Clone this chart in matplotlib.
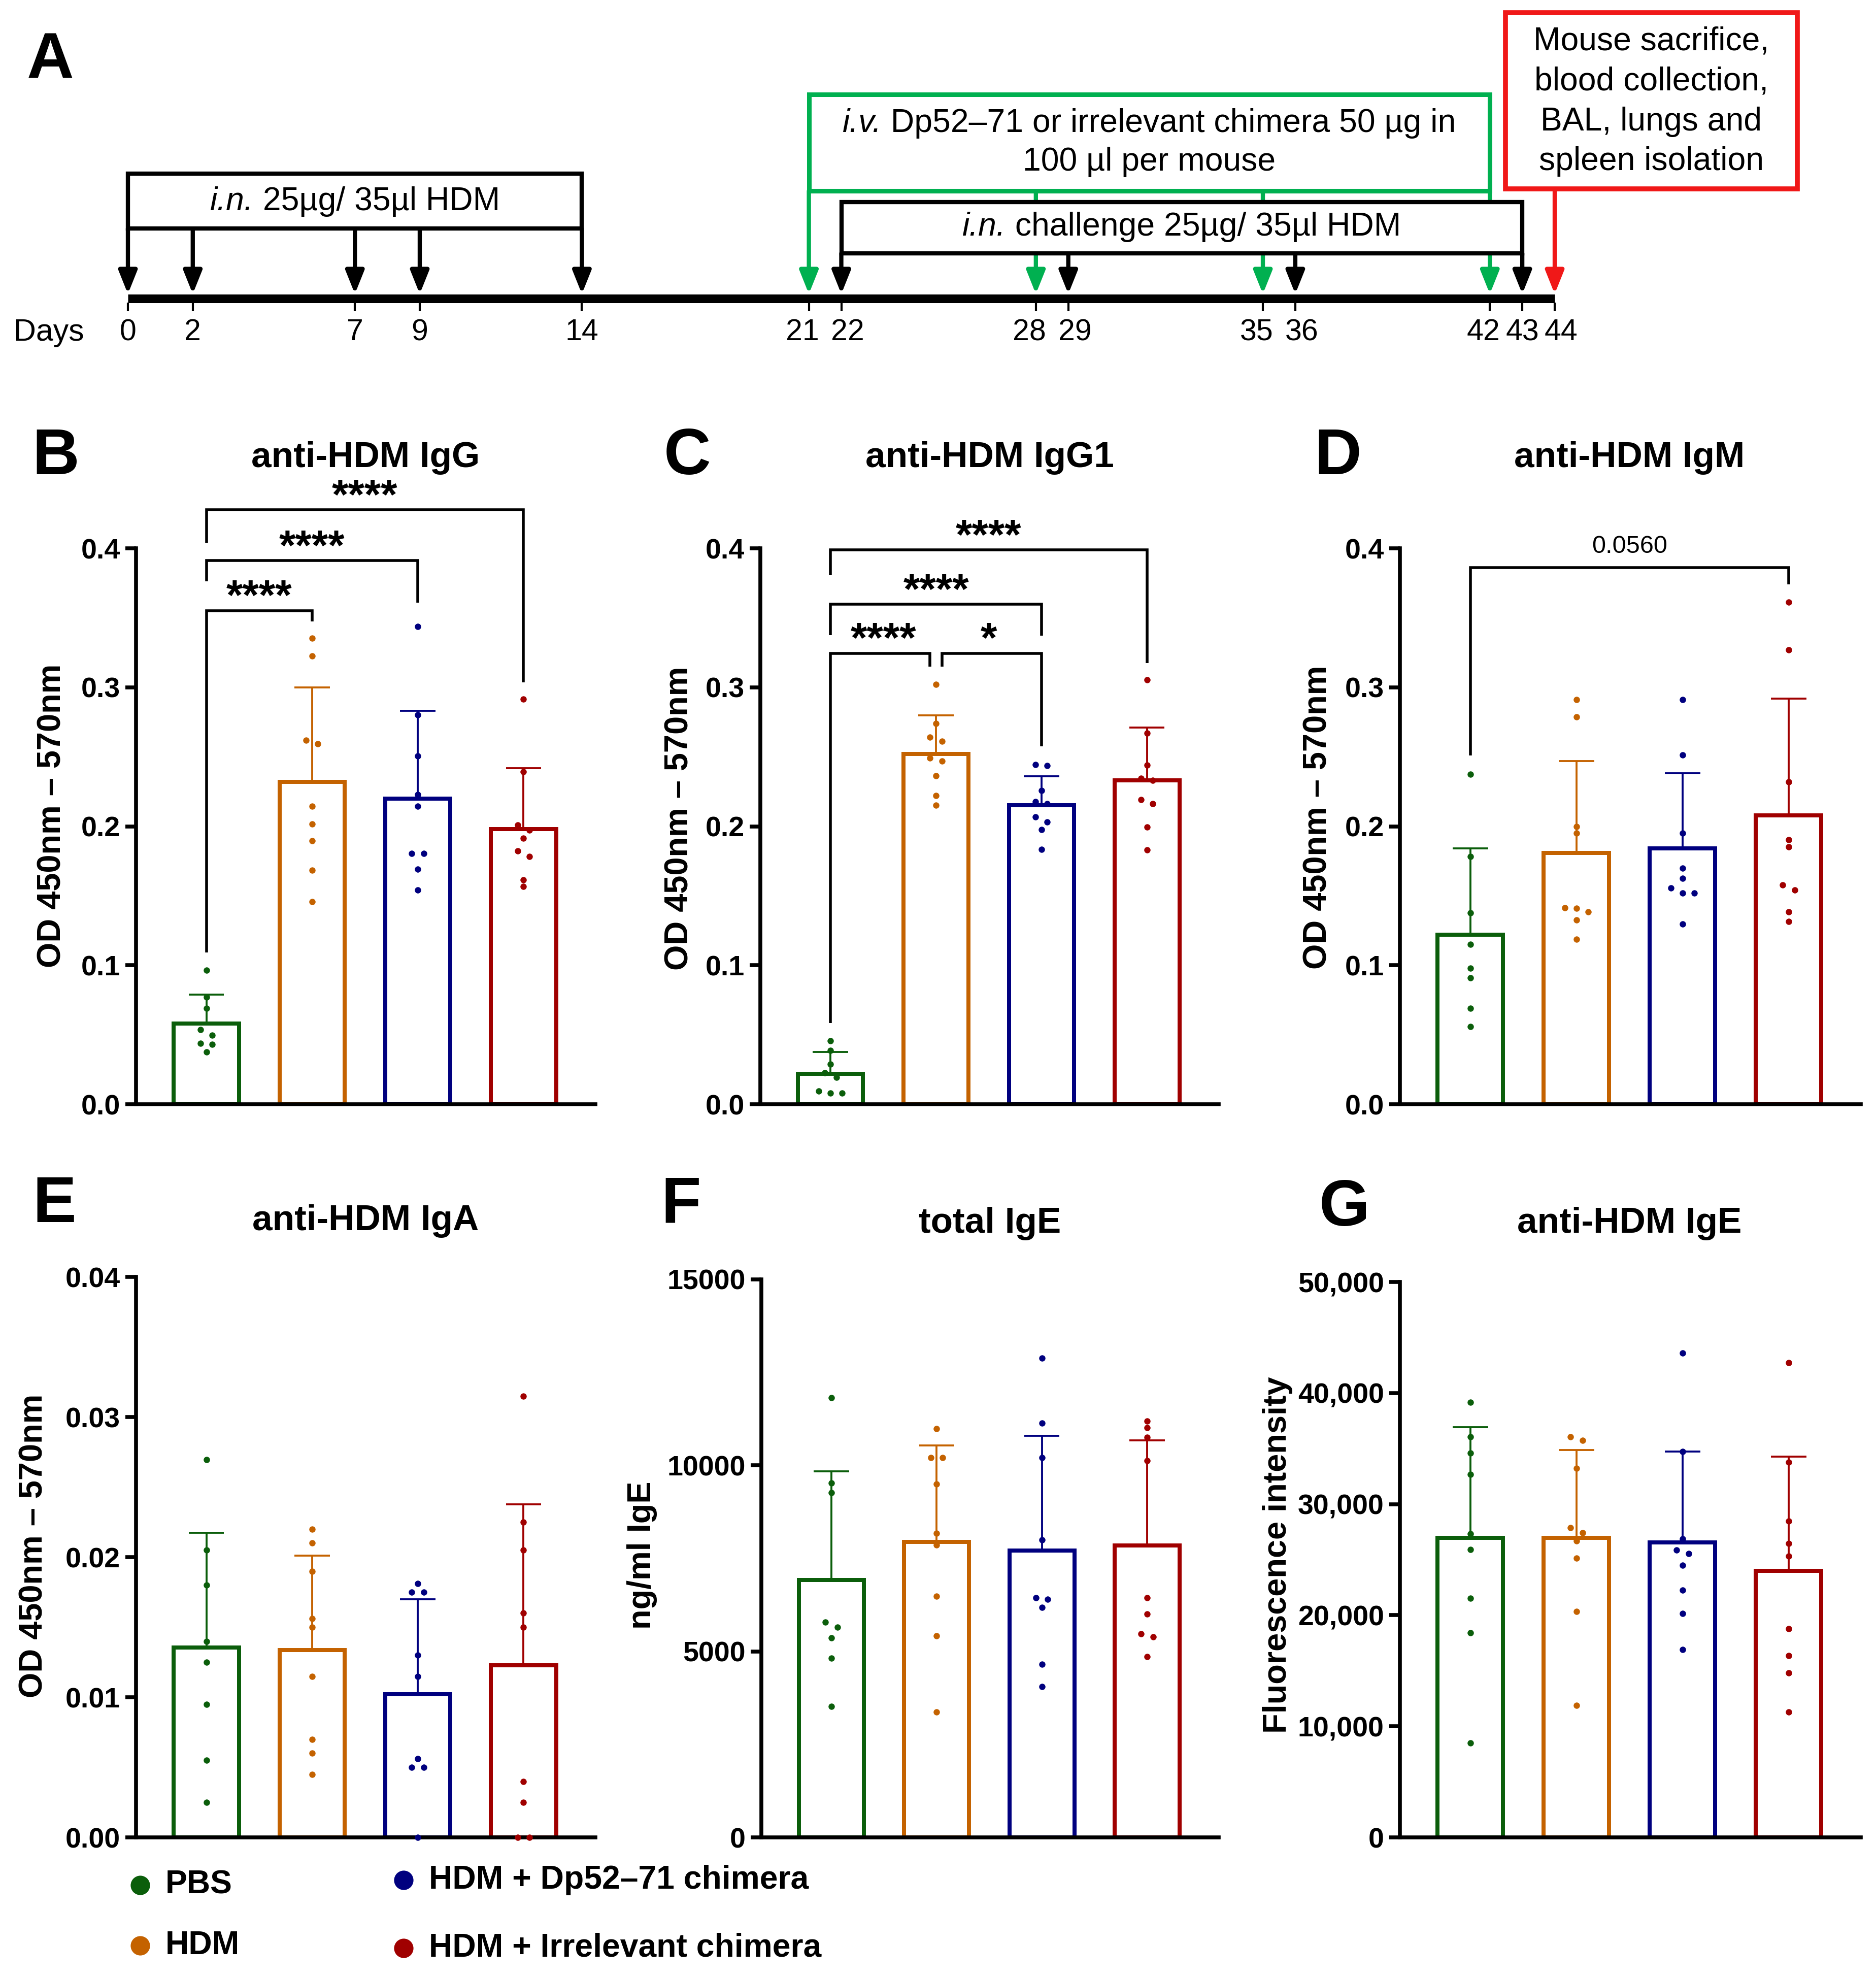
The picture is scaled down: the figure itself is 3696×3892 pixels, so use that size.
import numpy as np
import matplotlib
matplotlib.use('Agg')
import matplotlib.pyplot as plt
from matplotlib.patches import Rectangle
from matplotlib.ticker import FuncFormatter

plt.rcParams['font.family'] = ['Liberation Sans', 'DejaVu Sans']

# ---------------- data ----------------
groups = ['PBS', 'HDM', 'HDM + Dp52–71 chimera', 'HDM + Irrelevant chimera']
colors = ['#0b5e0b', '#c46200', '#00007f', '#a00000']

# Panel A timeline (days)
in_days = [0, 2, 7, 9, 14]
iv_days = [21, 28, 35, 42]
challenge_days = [22, 29, 36, 43]
sacrifice_day = 44
day_labels = [0, 2, 7, 9, 14, 21, 22, 28, 29, 35, 36, 42, 43, 44]
in_text = [('i.n.', 'italic'), (' 25µg/ 35µl HDM', 'normal')]
iv_text_1 = [('i.v.', 'italic'), (' Dp52–71 or irrelevant chimera 50 µg in', 'normal')]
iv_text_2 = [('100 µl per mouse', 'normal')]
challenge_text = [('i.n.', 'italic'), (' challenge 25µg/ 35µl HDM', 'normal')]
sacrifice_text = ['Mouse sacrifice,', 'blood collection,', 'BAL, lungs and', 'spleen isolation']

# Panel B: anti-HDM IgG
igg_pbs = [0.0966, 0.077, 0.0692, 0.0537, 0.0496, 0.0437, 0.0432, 0.0376]
igg_hdm = [0.3353, 0.3227, 0.2621, 0.2594, 0.2144, 0.2017, 0.1897, 0.1685, 0.1459]
igg_dp = [0.3437, 0.2801, 0.2506, 0.2229, 0.2144, 0.1803, 0.1803, 0.169, 0.154]
igg_irr = [0.2916, 0.2393, 0.2009, 0.1972, 0.1915, 0.1822, 0.1781, 0.1615, 0.1567]
igg_mean = [0.058, 0.232, 0.220, 0.198]
igg_sd = [0.021, 0.068, 0.063, 0.044]
igg_brackets = [(0, 1, 0.3552, 0.1094, 0.3475, '****'),
                (0, 2, 0.3912, 0.3764, 0.361, '****'),
                (0, 3, 0.4276, 0.404, 0.3037, '****')]

# Panel C: anti-HDM IgG1
igg1_pbs = [0.0457, 0.0387, 0.0287, 0.0228, 0.0195, 0.0095, 0.0081, 0.0081]
igg1_hdm = [0.3022, 0.2741, 0.2641, 0.2613, 0.249, 0.2468, 0.2365, 0.222, 0.2153]
igg1_dp = [0.2443, 0.2435, 0.2259, 0.2178, 0.2164, 0.2067, 0.2031, 0.1975, 0.1833]
igg1_irr = [0.3053, 0.2669, 0.244, 0.2345, 0.2331, 0.219, 0.2164, 0.1994, 0.183]
igg1_mean = [0.022, 0.252, 0.215, 0.233]
igg1_sd = [0.0155, 0.028, 0.021, 0.038]
igg1_brackets = [(0, 1, 0.3245, 0.0585, 0.315, '****'),
                 (1, 2, 0.3245, 0.315, 0.2577, '*'),
                 (0, 2, 0.3599, 0.3376, 0.337, '****'),
                 (0, 3, 0.3989, 0.3808, 0.3173, '****')]

# Panel D: anti-HDM IgM
igm_pbs = [0.2376, 0.1783, 0.1376, 0.115, 0.0978, 0.0911, 0.0691, 0.056]
igm_hdm = [0.2911, 0.2789, 0.2000, 0.1950, 0.1415, 0.141, 0.1385, 0.1326, 0.1187]
igm_dp = [0.2911, 0.2515, 0.195, 0.17, 0.1627, 0.1557, 0.1521, 0.1521, 0.1295]
igm_irr = [0.3613, 0.327, 0.232, 0.1903, 0.1852, 0.1577, 0.1543, 0.1385, 0.1315]
igm_mean = [0.122, 0.181, 0.184, 0.208]
igm_sd = [0.062, 0.066, 0.054, 0.084]
igm_brackets = [(0, 3, 0.3863, 0.251, 0.374, '0.0560')]

# Panel E: anti-HDM IgA
iga_pbs = [0.02697, 0.0205, 0.018, 0.014, 0.0125, 0.0095, 0.0055, 0.0025]
iga_hdm = [0.022, 0.021, 0.019, 0.0156, 0.0150, 0.0115, 0.007, 0.006, 0.0045]
iga_dp = [0.0181, 0.0175, 0.0175, 0.013, 0.0115, 0.0056, 0.005, 0.005, 0.0]
iga_irr = [0.0315, 0.0225, 0.0205, 0.016, 0.015, 0.004, 0.0025, 0.0, 0.0]
iga_mean = [0.01356, 0.01336, 0.0102, 0.0123]
iga_sd = [0.00818, 0.00674, 0.0068, 0.01146]

# Panel F: total IgE (ng/ml)
ige_pbs = [11823, 9531, 9271, 5792, 5646, 5365, 4823, 3521]
ige_hdm = [10990, 10208, 10208, 9500, 8177, 7865, 6479, 5417, 3375]
ige_dp = [12885, 11135, 10208, 8000, 6448, 6396, 6188, 4656, 4052]
ige_irr = [11198, 11010, 10760, 10125, 6438, 6010, 5479, 5385, 4865]
ige_mean = [6917, 7948, 7708, 7854]
ige_sd = [2927, 2594, 3094, 2813]

# Panel G: anti-HDM IgE (fluorescence intensity)
hige_pbs = [39184, 36044, 34613, 32659, 27320, 25925, 21528, 18423, 8514]
hige_hdm = [36044, 35729, 33217, 27879, 27425, 26692, 25157, 20342, 11863]
hige_dp = [43580, 34717, 26867, 25890, 25541, 24494, 22261, 20167, 16888]
hige_irr = [42743, 33775, 28472, 26483, 25331, 18772, 16364, 14829, 11305]
hige_mean = [26971, 26971, 26552, 24006]
hige_sd = [9979, 7886, 8165, 10258]

# ---------------- layout helpers ----------------
W, H = 3696, 3892
DPI = 250
fig = plt.figure(figsize=(W / DPI, H / DPI), dpi=DPI)
renderer = fig.canvas.get_renderer()

def rect(l, r, top, bottom):
    return [l / W, 1 - bottom / H, (r - l) / W, (bottom - top) / H]

ov = fig.add_axes([0, 0, 1, 1])
ov.set_xlim(0, W)
ov.set_ylim(H, 0)
ov.axis('off')

# ---------------- Panel A ----------------
PXDAY = (3063 - 252) / 44.0
axa = fig.add_axes(rect(0, W, 0, 720))
axa.set_xlim(-252 / PXDAY, (W - 252) / PXDAY)
axa.set_ylim(720, 0)
axa.axis('off')

green = '#00b050'
red = '#f01818'
y_line = 588
y_tip = 579
FS_A = 18.5

def mixed_text(ax, x, y, parts, fontsize):
    texts = [ax.text(x, y, s, fontstyle=st, fontsize=fontsize, ha='left', va='center', zorder=6)
             for s, st in parts]
    widths = [t.get_window_extent(renderer).width for t in texts]
    xd0 = ax.transData.transform((x, y))[0] - sum(widths) / 2
    cum = 0.0
    inv = ax.transData.inverted()
    for t, w in zip(texts, widths):
        t.set_x(inv.transform((xd0 + cum, 0))[0])
        cum += w

axa.plot([min(day_labels), max(day_labels)], [y_line, y_line], color='black', lw=4.9,
         solid_capstyle='butt', zorder=4)
axa.vlines(day_labels, 596, 613, color='black', lw=1.2, zorder=4)
dayset = set(day_labels)
for d in day_labels:
    shift = 0.0
    if (d + 1) in dayset and (d - 1) not in dayset:
        shift = -0.2
    elif (d - 1) in dayset and (d + 1) not in dayset:
        shift = 0.2
    axa.text(d + shift, 655, str(d), ha='center', va='center', fontsize=17)
axa.text((27 - 252) / PXDAY, 655, 'Days', ha='left', va='center', fontsize=17.5)

def arrow(day, y0, color, z=2):
    axa.annotate('', xy=(day, y_tip), xytext=(day, y0),
                 arrowprops=dict(arrowstyle='-|>,head_length=0.55,head_width=0.22',
                                 color=color, lw=2.4, shrinkA=0, shrinkB=0,
                                 mutation_scale=20), zorder=z)

for d in in_days:
    arrow(d, 450, 'black')
for d in iv_days:
    arrow(d, 376, green)
for d in challenge_days:
    arrow(d, 499, 'black')
arrow(sacrifice_day, 372, red)

# boxes
axa.add_patch(Rectangle((in_days[0], 342), in_days[-1] - in_days[0], 108,
                        facecolor='white', edgecolor='black', lw=2.4, zorder=3))
mixed_text(axa, (in_days[0] + in_days[-1]) / 2, 397, in_text, FS_A)

axa.add_patch(Rectangle((iv_days[0], 186), iv_days[-1] - iv_days[0], 190,
                        facecolor='white', edgecolor=green, lw=2.6, zorder=3))
mixed_text(axa, (iv_days[0] + iv_days[-1]) / 2, 243, iv_text_1, FS_A)
mixed_text(axa, (iv_days[0] + iv_days[-1]) / 2, 319, iv_text_2, FS_A)

axa.add_patch(Rectangle((challenge_days[0], 398), challenge_days[-1] - challenge_days[0], 101,
                        facecolor='white', edgecolor='black', lw=2.4, zorder=3))
mixed_text(axa, (challenge_days[0] + challenge_days[-1]) / 2, 447, challenge_text, FS_A)

rb_l, rb_r = (2966 - 252) / PXDAY, (3541 - 252) / PXDAY
axa.add_patch(Rectangle((rb_l, 25), rb_r - rb_l, 347, facecolor='white', edgecolor=red, lw=2.8, zorder=3))
for k, line in enumerate(sacrifice_text):
    axa.text((rb_l + rb_r) / 2, 200 + (k - 1.5) * 79, line, ha='center', va='center',
             fontsize=FS_A, zorder=5)

# ---------------- bar panels ----------------
def beeswarm(values, rng):
    thr = 0.011 * rng
    vals = np.sort(np.asarray(values, dtype=float))[::-1]
    offs = np.zeros(len(vals))
    grps, cur = [], [0]
    for k in range(1, len(vals)):
        if vals[cur[-1]] - vals[k] < thr:
            cur.append(k)
        else:
            grps.append(cur)
            cur = [k]
    grps.append(cur)
    for g in grps:
        n = len(g)
        for m, k in enumerate(g):
            offs[k] = (m - (n - 1) / 2) * 0.112
    return offs, vals

def draw_brackets(ax, specs):
    for (i, j, y, yl, yr, lbl) in specs:
        xl, xr = float(i), float(j)
        for (i2, j2, y2, *_r) in specs:
            if (i2, j2) != (i, j) and abs(y2 - y) < 1e-9:
                if j == i2:
                    xr = j - 0.056
                if i == j2:
                    xl = i + 0.056
        ax.plot([xl, xl, xr, xr], [yl, y, y, yr], color='black', lw=1.6,
                clip_on=False, solid_joinstyle='miter', solid_capstyle='butt', zorder=5)
        if set(lbl) == {'*'}:
            ax.text((i + j) / 2, y + 0.0005, lbl, ha='center', va='baseline', fontsize=24,
                    fontweight='bold', clip_on=False)
        else:
            ax.text((i + j) / 2, y + 0.0104, lbl, ha='center', va='baseline', fontsize=14,
                    clip_on=False)

def draw_panel(r, point_sets, means, sds, ylim, ticks, fmt, brackets=None):
    ax = fig.add_axes(r)
    x = np.arange(len(groups))
    top = np.add(means, sds)
    ax.bar(x, means, width=0.617, facecolor='none', edgecolor=colors, linewidth=2.3, zorder=2)
    ax.vlines(x, means, top, colors=colors, lw=1.1, zorder=3)
    ax.hlines(top, x - 0.167, x + 0.167, colors=colors, lw=1.1, zorder=3)
    for i, vals in enumerate(point_sets):
        off, v = beeswarm(vals, ylim[1] - ylim[0])
        ax.plot(i + off, v, 'o', ms=3.6, color=colors[i], mew=0, zorder=4, clip_on=False)
    ax.set_xlim(-0.665, 3.68)
    ax.set_ylim(*ylim)
    ax.set_yticks(ticks)
    ax.yaxis.set_major_formatter(FuncFormatter(fmt))
    ax.set_xticks([])
    for s in ['top', 'right']:
        ax.spines[s].set_visible(False)
    for s in ['left', 'bottom']:
        ax.spines[s].set_linewidth(2.2)
    ax.tick_params(axis='y', length=6, width=2.2, pad=3, labelsize=16)
    for lab in ax.get_yticklabels():
        lab.set_fontweight('bold')
    if brackets:
        draw_brackets(ax, brackets)
    return ax

f1 = lambda v, p: f'{v:.1f}'
f2 = lambda v, p: f'{v:.2f}'
f0 = lambda v, p: f'{v:.0f}'
fc = lambda v, p: f'{int(round(v)):,}'

draw_panel(rect(268, 1173, 1080, 2175), [igg_pbs, igg_hdm, igg_dp, igg_irr], igg_mean, igg_sd,
           (0, 0.4), [0, 0.1, 0.2, 0.3, 0.4], f1, igg_brackets)
draw_panel(rect(1498, 2401, 1080, 2175), [igg1_pbs, igg1_hdm, igg1_dp, igg1_irr], igg1_mean, igg1_sd,
           (0, 0.4), [0, 0.1, 0.2, 0.3, 0.4], f1, igg1_brackets)
draw_panel(rect(2758, 3666, 1080, 2175), [igm_pbs, igm_hdm, igm_dp, igm_irr], igm_mean, igm_sd,
           (0, 0.4), [0, 0.1, 0.2, 0.3, 0.4], f1, igm_brackets)
draw_panel(rect(268, 1173, 2515, 3619), [iga_pbs, iga_hdm, iga_dp, iga_irr], iga_mean, iga_sd,
           (0, 0.04), [0, 0.01, 0.02, 0.03, 0.04], f2)
draw_panel(rect(1500, 2401, 2520, 3619), [ige_pbs, ige_hdm, ige_dp, ige_irr], ige_mean, ige_sd,
           (0, 15000), [0, 5000, 10000, 15000], f0)
draw_panel(rect(2758, 3666, 2525, 3619), [hige_pbs, hige_hdm, hige_dp, hige_irr], hige_mean, hige_sd,
           (0, 50000), [0, 10000, 20000, 30000, 40000, 50000], fc)

# ---------------- text: letters, titles, y labels ----------------
letters = [('A', 99, 155), ('B', 110, 934), ('C', 1354, 934), ('D', 2636, 934),
           ('E', 107, 2407), ('F', 1342, 2407), ('G', 2649, 2414)]
for t, xx, yy in letters:
    ov.text(xx, yy, t, ha='center', va='baseline', fontsize=37, fontweight='bold')

titles = [('anti-HDM IgG', 720, 920), ('anti-HDM IgG1', 1950, 920), ('anti-HDM IgM', 3210, 920),
          ('anti-HDM IgA', 720, 2423), ('total IgE', 1950, 2428), ('anti-HDM IgE', 3210, 2428)]
for t, xx, yy in titles:
    ov.text(xx, yy, t, ha='center', va='baseline', fontsize=20.5, fontweight='bold')

ylabels = [('OD 450nm – 570nm', 103, 1607), ('OD 450nm – 570nm', 1339, 1612),
           ('OD 450nm – 570nm', 2597, 1610), ('OD 450nm – 570nm', 67, 3045),
           ('ng/ml IgE', 1265, 3063), ('Fluorescence intensity', 2517, 3063)]
for t, xx, yy in ylabels:
    ov.text(xx, yy, t, ha='center', va='center', rotation=90, fontsize=18.7, fontweight='bold')

# ---------------- legend ----------------
leg_pos = [(276, 3713), (276, 3832), (795, 3703), (795, 3837)]
for (gname, col, (lx, ly)) in zip(groups, colors, leg_pos):
    ov.plot([lx], [ly], 'o', ms=11, color=col, mew=0)
    ov.text(lx + 50, ly, gname, ha='left', va='center', fontsize=18.5, fontweight='bold')

fig.savefig('out.png', dpi=DPI)
